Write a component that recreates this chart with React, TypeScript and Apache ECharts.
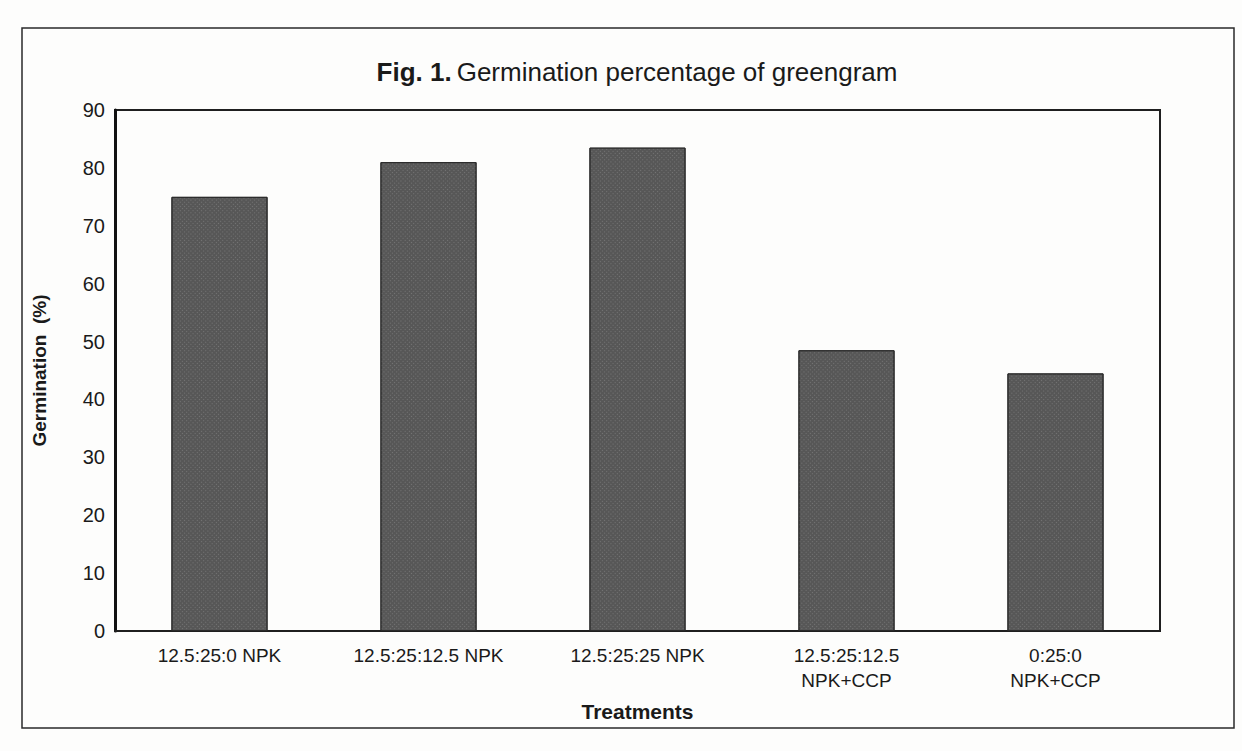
import React, { useEffect, useRef } from "react";
import * as echarts from "echarts";

const categories = [
  "12.5:25:0 NPK",
  "12.5:25:12.5 NPK",
  "12.5:25:25 NPK",
  "12.5:25:12.5\nNPK+CCP",
  "0:25:0\nNPK+CCP",
];
const germination = [75, 81, 83.5, 48.5, 44.5];
const yTicks = { min: 0, max: 90, interval: 10 };

const FONT = "'Liberation Sans', Arial, sans-serif";

export default function App() {
  const ref = useRef<HTMLDivElement>(null);
  useEffect(() => {
    if (!ref.current) return;
    const chart = echarts.init(ref.current, null, { renderer: "svg" });
    chart.setOption({
      animation: false,
      backgroundColor: "#fdfdfc",
      title: {
        text: "{b|Fig. 1.} {n|Germination percentage of greengram}",
        left: 632,
        top: 54,
        textAlign: "center",
        textStyle: {
          fontWeight: "normal",
          rich: {
            b: { fontFamily: FONT, fontSize: 26, fontWeight: "bold", color: "#1a1a1a" },
            n: { fontFamily: FONT, fontSize: 26, fontWeight: "normal", color: "#1a1a1a" },
          },
        },
      },
      graphic: [
        {
          type: "rect",
          shape: { x: 22, y: 28, width: 1212, height: 700 },
          style: { fill: "none", stroke: "#2a2a2a", lineWidth: 1.5 },
          silent: true,
        },
      ],
      grid: {
        left: 115,
        right: 82,
        top: 110,
        bottom: 120,
        show: true,
        borderColor: "#1f1f1f",
        borderWidth: 2,
        backgroundColor: "transparent",
      },
      xAxis: {
        type: "category",
        data: categories,
        name: "Treatments",
        nameLocation: "middle",
        nameGap: 70,
        nameTextStyle: { fontFamily: FONT, fontSize: 21, fontWeight: "bold", color: "#1a1a1a" },
        axisLine: { show: true, lineStyle: { color: "#1f1f1f", width: 2 } },
        axisTick: { show: false },
        axisLabel: {
          fontFamily: FONT,
          fontSize: 19,
          color: "#1a1a1a",
          margin: 12,
          lineHeight: 25,
          interval: 0,
        },
      },
      yAxis: {
        type: "value",
        min: yTicks.min,
        max: yTicks.max,
        interval: yTicks.interval,
        name: "Germination  (%)",
        nameLocation: "middle",
        nameGap: 66,
        nameRotate: 90,
        nameTextStyle: { fontFamily: FONT, fontSize: 19, fontWeight: "bold", color: "#1a1a1a" },
        axisLine: { show: true, lineStyle: { color: "#111", width: 3 } },
        axisTick: { show: false },
        splitLine: { show: false },
        axisLabel: { fontFamily: FONT, fontSize: 20, color: "#1a1a1a", margin: 10 },
      },
      series: [
        {
          type: "bar",
          data: germination,
          barWidth: "46%",
          itemStyle: {
            color: "#575757",
            borderColor: "#2b2b2b",
            borderWidth: 1,
            decal: {
              symbol: "rect",
              color: "rgba(255,255,255,0.18)",
              dashArrayX: [1, 2],
              dashArrayY: [1, 2],
              rotation: Math.PI / 4,
              symbolSize: 1,
            },
          },
        },
      ],
    });
    return () => chart.dispose();
  }, []);
  return (
    <div
      ref={ref}
      style={{ position: "fixed", left: 0, top: 0, width: 1242, height: 751 }}
    />
  );
}
